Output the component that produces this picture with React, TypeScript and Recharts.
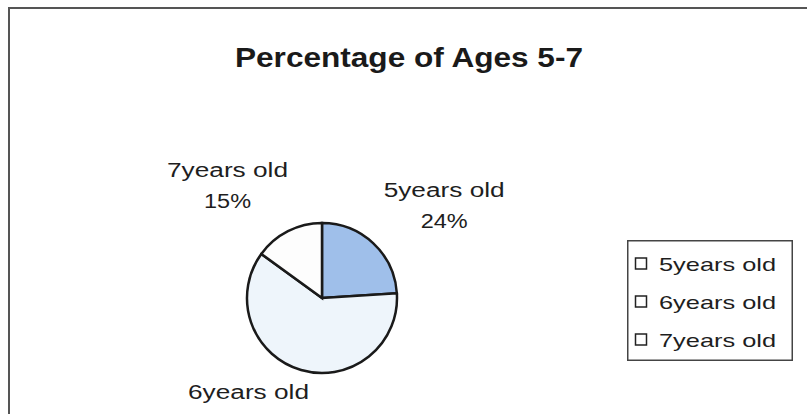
import { PieChart, Pie, Cell, Legend } from 'recharts';

const categories = ['5years old', '6years old', '7years old'];
const percentages = [24, 61, 15];
const sliceColors = ['#9fbfea', '#eef5fb', '#fdfdfd'];
const chartTitle = 'Percentage of Ages 5-7';

const data = categories.map((name, i) => ({ name, value: percentages[i] }));

const FONT = '"Liberation Sans", Arial, sans-serif';

function renderLabel(props: any) {
  const { cx, cy, midAngle, outerRadius, name, value } = props;
  const rad = (Math.PI / 180) * midAngle;
  const r = outerRadius + 45;
  const cos = Math.cos(rad);
  const x = cx + r * cos + Math.sign(cos) * 40;
  const y = cy - r * Math.sin(rad);
  return (
    <g>
      <text x={x} y={y - 14} textAnchor="middle" fontFamily={FONT} fontSize={20} fill="#1e1e1e"
        textLength={121} lengthAdjust="spacingAndGlyphs">
        {name}
      </text>
      <text x={x} y={y + 17} textAnchor="middle" fontFamily={FONT} fontSize={20} fill="#1e1e1e"
        textLength={47} lengthAdjust="spacingAndGlyphs">
        {`${value}%`}
      </text>
    </g>
  );
}

function LegendBox({ payload }: any) {
  const items = payload || [];
  return (
    <svg width={166} height={121} style={{ display: 'block' }}>
      <rect x={0.75} y={0.75} width={164.5} height={119.5} fill="#fff" stroke="#444" strokeWidth={1.5} />
      {items.map((entry: any, i: number) => {
        const cy = 24 + i * 38;
        return (
          <g key={entry.value}>
            <rect x={8.5} y={cy - 6} width={11} height={11} fill="#fff" stroke="#222" strokeWidth={1.5} />
            <text x={32} y={cy + 6.5} fontFamily={FONT} fontSize={19} fill="#1e1e1e"
              textLength={117} lengthAdjust="spacingAndGlyphs">
              {entry.value}
            </text>
          </g>
        );
      })}
    </svg>
  );
}

export default function App() {
  return (
    <div style={{ position: 'absolute', left: 0, top: 0, width: 807, height: 414, background: '#fff', overflow: 'hidden' }}>
      <div style={{ position: 'absolute', left: 8, top: 7, right: -4, bottom: -4, borderTop: '2px solid #555', borderLeft: '2px solid #555' }} />
      <svg width={807} height={414} style={{ position: 'absolute', left: 0, top: 0 }}>
        <text x={409} y={67} textAnchor="middle" fontFamily={FONT} fontWeight="bold" fontSize={28} fill="#1a1a1a"
          textLength={348} lengthAdjust="spacingAndGlyphs">
          {chartTitle}
        </text>
      </svg>
      <div style={{ position: 'absolute', left: 0, top: 0 }}>
        <PieChart width={807} height={414} margin={{ top: 0, right: 0, bottom: 0, left: 0 }}>
          <Pie
            data={data}
            dataKey="value"
            nameKey="name"
            cx={322}
            cy={298}
            outerRadius={75}
            startAngle={90}
            endAngle={-270}
            stroke="#1a1a1a"
            strokeWidth={2.5}
            label={renderLabel}
            labelLine={false}
            isAnimationActive={false}
          >
            {data.map((d, i) => (
              <Cell key={d.name} fill={sliceColors[i]} />
            ))}
          </Pie>
          <Legend
            layout="vertical"
            align="right"
            verticalAlign="middle"
            content={<LegendBox />}
            wrapperStyle={{ left: 627, top: 240, right: 'auto', bottom: 'auto', width: 166, height: 121 }}
          />
        </PieChart>
      </div>
    </div>
  );
}
